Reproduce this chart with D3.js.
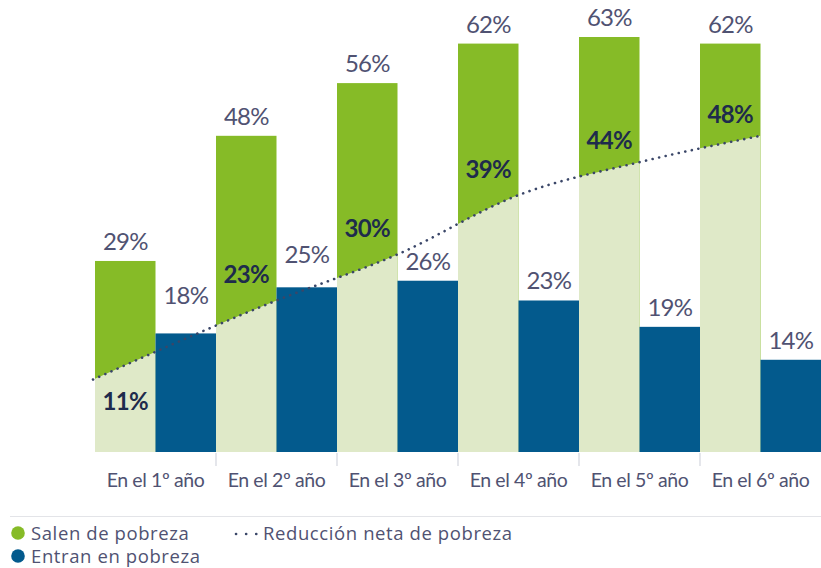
<!DOCTYPE html>
<html lang="es">
<head>
<meta charset="utf-8">
<script src="https://cdn.jsdelivr.net/npm/d3@7"></script>
<style>
  html, body { margin: 0; padding: 0; background: #ffffff; }
  svg { display: block; font-family: Lato, "Open Sans", sans-serif; }
</style>
</head>
<body>
<svg id="chart" width="821" height="568"></svg>
<script>
// Años desde el primer registro
const categories = ["En el 1º año", "En el 2º año", "En el 3º año", "En el 4º año", "En el 5º año", "En el 6º año"];
// Porcentaje de hogares que salen de la pobreza
const salen = [29, 48, 56, 62, 63, 62];
// Porcentaje de hogares que entran en la pobreza
const entran = [18, 25, 26, 23, 19, 14];
// Reducción neta de pobreza
const neta = [11, 23, 30, 39, 44, 48];

const legendItems = ["Salen de pobreza", "Entran en pobreza", "Reducción neta de pobreza"];

const C = {
  green: "#86bb27",
  light: "#dfe9c8",
  blue: "#035a8d",
  text: "#505272",
  net: "#1e2b4c",
  dots: "#3a4668",
  tick: "#d3d6de",
  rule: "#e3e4e8"
};

const svg = d3.select("#chart");

const x0 = d3.scaleBand().domain(categories).range([95, 821]).paddingInner(0).paddingOuter(0);
const x1 = d3.scaleBand().domain(["salen", "entran"]).range([0, x0.bandwidth()]).padding(0);
const y = d3.scaleLinear().domain([0, 63]).range([452, 37]);

const groups = categories.map((c, i) => ({ c, i, salen: salen[i], entran: entran[i], neta: neta[i] }));

// Green bars (dark, full height)
svg.append("g").selectAll("rect")
  .data(groups).join("rect")
  .attr("x", d => x0(d.c) + x1("salen"))
  .attr("y", d => y(d.salen))
  .attr("width", x1.bandwidth())
  .attr("height", d => y(0) - y(d.salen))
  .attr("fill", C.green);

// Clip for the net-reduction area: only inside the green columns
const clip = svg.append("defs").append("clipPath").attr("id", "greenCols");
clip.selectAll("rect")
  .data(groups).join("rect")
  .attr("x", d => x0(d.c) + x1("salen"))
  .attr("y", d => y(d.salen))
  .attr("width", x1.bandwidth())
  .attr("height", d => y(0) - y(d.salen));

// Knots of the net reduction curve: first at the start of the series,
// the rest at the right edge of each green column
const knotX = d => d.i === 0 ? x0(d.c) + x1("salen") - 2 : x0(d.c) + x1("salen") + x1.bandwidth();

const area = d3.area()
  .x(knotX)
  .y0(y(0))
  .y1(d => y(d.neta))
  .curve(d3.curveMonotoneX);

const line = d3.line()
  .x(knotX)
  .y(d => y(d.neta))
  .curve(d3.curveMonotoneX);

svg.append("path")
  .datum(groups)
  .attr("d", area)
  .attr("fill", C.light)
  .attr("clip-path", "url(#greenCols)");

// Blue bars
svg.append("g").selectAll("rect")
  .data(groups).join("rect")
  .attr("x", d => x0(d.c) + x1("entran"))
  .attr("y", d => y(d.entran))
  .attr("width", x1.bandwidth())
  .attr("height", d => y(0) - y(d.entran))
  .attr("fill", C.blue);

// Dotted net reduction line
svg.append("path")
  .datum(groups)
  .attr("d", line)
  .attr("fill", "none")
  .attr("stroke", C.dots)
  .attr("stroke-width", 2.6)
  .attr("stroke-linecap", "round")
  .attr("stroke-dasharray", "0.1 6.6");

// Category axis: ticks between groups, no domain line
const axis = d3.axisBottom(x0).tickSize(0).tickPadding(0);
const gx = svg.append("g").attr("transform", `translate(0,${y(0)})`).call(axis);
gx.select(".domain").remove();
gx.selectAll(".tick text")
  .attr("y", 35)
  .attr("dy", 0)
  .attr("fill", C.text)
  .attr("font-size", 19.5)
  .attr("letter-spacing", -0.4)
  .attr("font-family", "Lato, sans-serif");
gx.selectAll(".sep")
  .data(categories.slice(1)).join("line")
  .attr("class", "sep")
  .attr("x1", d => x0(d)).attr("x2", d => x0(d))
  .attr("y1", 1).attr("y2", 14)
  .attr("stroke", C.tick)
  .attr("stroke-width", 1.2);

// Value labels above green bars
svg.append("g").selectAll("text")
  .data(groups).join("text")
  .attr("x", d => x0(d.c) + x1("salen") + x1.bandwidth() / 2)
  .attr("y", d => y(d.salen) - 11)
  .attr("text-anchor", "middle")
  .attr("font-size", 24)
  .attr("letter-spacing", -0.8)
  .attr("fill", C.text)
  .text(d => d.salen + "%");

// Value labels above blue bars (the first two lifted clear of the dotted line)
svg.append("g").selectAll("text")
  .data(groups).join("text")
  .attr("x", d => x0(d.c) + x1("entran") + x1.bandwidth() / 2)
  .attr("y", d => y(d.entran) - 11 - (d.i === 0 ? 18 : d.i === 1 ? 13 : 0))
  .attr("text-anchor", "middle")
  .attr("font-size", 24)
  .attr("letter-spacing", -0.8)
  .attr("fill", C.text)
  .text(d => d.entran + "%");

// Net reduction labels inside green columns
svg.append("g").selectAll("text")
  .data(groups).join("text")
  .attr("x", d => x0(d.c) + x1("salen") + x1.bandwidth() / 2)
  .attr("y", d => d.i === 0 ? y(d.neta) + 30 : y(d.neta) - 17 + (d.i >= 4 ? 4 : 0))
  .attr("text-anchor", "middle")
  .attr("font-size", 24)
  .attr("font-weight", 700)
  .attr("letter-spacing", -0.6)
  .attr("fill", C.net)
  .text(d => d.neta + "%");

// Legend
svg.append("line")
  .attr("x1", 10).attr("x2", 821)
  .attr("y1", 516.5).attr("y2", 516.5)
  .attr("stroke", C.rule).attr("stroke-width", 1.2);

const lg = svg.append("g")
  .attr("font-family", "'Open Sans', Lato, sans-serif")
  .attr("font-size", 18.5)
  .attr("fill", C.text)
  .attr("letter-spacing", 0.6);
lg.append("circle").attr("cx", 18).attr("cy", 533).attr("r", 6.8).attr("fill", C.green);
lg.append("text").attr("x", 31).attr("y", 539.5).text(legendItems[0]);
lg.append("circle").attr("cx", 18).attr("cy", 556).attr("r", 6.8).attr("fill", C.blue);
lg.append("text").attr("x", 31).attr("y", 562.5).text(legendItems[1]);
lg.append("line")
  .attr("x1", 236).attr("x2", 257)
  .attr("y1", 534).attr("y2", 534)
  .attr("stroke", C.dots).attr("stroke-width", 2.6)
  .attr("stroke-linecap", "round")
  .attr("stroke-dasharray", "0.1 10");
lg.append("text").attr("x", 263).attr("y", 539.5).text(legendItems[2]);
</script>
</body>
</html>
